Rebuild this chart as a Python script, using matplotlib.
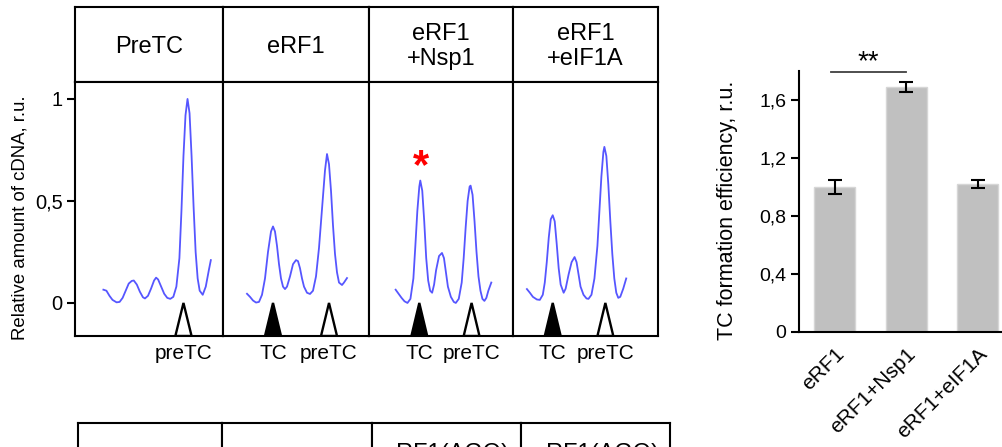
import numpy as np
import matplotlib
matplotlib.use("Agg")
import matplotlib.pyplot as plt
from matplotlib.patches import Polygon
import matplotlib.transforms as mtransforms

plt.rcParams['font.family'] = ['Liberation Sans', 'DejaVu Sans']

W, H = 1003, 447

# toeprinting profiles: position along the gel lane (a.u.) and relative cDNA amount
panel_titles = ["PreTC", "eRF1", "eRF1\n+Nsp1", "eRF1\n+eIF1A"]

pretc_pos = [28, 31, 34, 37, 41, 44, 47, 50, 53, 56, 58, 61, 64, 67, 69, 72, 75, 78, 80, 82,
             85, 88, 91, 94, 97, 100, 103, 105, 107, 109, 111, 113, 115, 117, 119, 121, 123,
             126, 129, 132, 134]
pretc_val = [0.065, 0.06, 0.035, 0.015, 0.003, 0.005, 0.025, 0.06, 0.095, 0.108, 0.11, 0.09,
             0.055, 0.028, 0.022, 0.035, 0.07, 0.11, 0.124, 0.115, 0.08, 0.045, 0.025, 0.02,
             0.03, 0.08, 0.22, 0.45, 0.72, 0.92, 1.0, 0.93, 0.72, 0.47, 0.25, 0.12, 0.06, 0.04,
             0.08, 0.16, 0.21]

erf1_pos = [24, 27, 30, 33, 36, 39, 42, 45, 48, 50, 52, 54, 56, 58, 60, 62, 64, 67, 70, 73,
            75, 77, 79, 81, 84, 87, 90, 93, 96, 99, 102, 104, 106, 108, 110, 112, 114, 116,
            119, 121, 124]
erf1_val = [0.045, 0.03, 0.012, 0.002, 0.005, 0.04, 0.12, 0.25, 0.35, 0.375, 0.35, 0.28, 0.19,
            0.12, 0.08, 0.068, 0.08, 0.13, 0.19, 0.21, 0.205, 0.17, 0.12, 0.08, 0.05, 0.044,
            0.06, 0.13, 0.27, 0.46, 0.65, 0.73, 0.68, 0.55, 0.38, 0.24, 0.15, 0.1, 0.088, 0.1,
            0.122]

nsp1_pos = [27, 30, 33, 36, 39, 42, 45, 47, 49, 51, 52, 54, 56, 58, 60, 62, 64, 66, 68, 71,
            74, 76, 78, 80, 83, 86, 88, 91, 94, 96, 98, 100, 102, 103, 105, 107, 109, 111, 113,
            115, 117, 119, 121, 124]
nsp1_val = [0.065, 0.045, 0.025, 0.008, 0.0, 0.02, 0.12, 0.28, 0.45, 0.57, 0.6, 0.55, 0.4,
            0.22, 0.11, 0.06, 0.05, 0.09, 0.16, 0.23, 0.245, 0.22, 0.15, 0.08, 0.03, 0.005, 0.0,
            0.02, 0.1, 0.22, 0.37, 0.5, 0.57, 0.575, 0.53, 0.4, 0.25, 0.13, 0.06, 0.02, 0.01,
            0.025, 0.06, 0.1]

eif1a_pos = [14, 17, 20, 24, 27, 30, 32, 34, 36, 38, 40, 42, 44, 46, 48, 51, 53, 56, 59, 62,
             64, 66, 68, 71, 74, 76, 79, 82, 85, 87, 89, 91, 92, 94, 96, 98, 100, 102, 104, 106,
             108, 111, 114]
eif1a_val = [0.068, 0.05, 0.03, 0.017, 0.015, 0.04, 0.1, 0.2, 0.32, 0.41, 0.43, 0.4, 0.29, 0.17,
             0.09, 0.05, 0.07, 0.14, 0.2, 0.225, 0.2, 0.14, 0.08, 0.04, 0.022, 0.02, 0.04, 0.12,
             0.28, 0.45, 0.62, 0.74, 0.765, 0.72, 0.58, 0.4, 0.24, 0.12, 0.05, 0.025, 0.03, 0.07,
             0.12]

traces = [(pretc_pos, pretc_val), (erf1_pos, erf1_val), (nsp1_pos, nsp1_val), (eif1a_pos, eif1a_val)]
tc_mark = [None, 50, 51, 40]
pretc_mark = [107, 106, 104, 93]
star_pos, star_val = 53, 0.665

# TC formation efficiency
bar_labels = ["eRF1", "eRF1+Nsp1", "eRF1+eIF1A"]
bar_vals = [1.0, 1.69, 1.02]
bar_err = [0.05, 0.035, 0.028]


def px_rect(x0, y0, x1, y1):
    return [x0 / W, 1 - y1 / H, (x1 - x0) / W, (y1 - y0) / H]


fig = plt.figure(figsize=(W / 100, H / 100), dpi=100)

cols = [75, 223, 369, 513, 658]
LW = 1.5

for i in range(4):
    x0, x1 = cols[i], cols[i + 1]
    # header cell
    hx = fig.add_axes(px_rect(x0, 7, x1, 82))
    hx.set_xticks([]); hx.set_yticks([])
    for s in hx.spines.values():
        s.set_linewidth(LW)
    hx.text(0.5, 0.47, panel_titles[i], ha='center', va='center', fontsize=17,
            transform=hx.transAxes)

    ax = fig.add_axes(px_rect(x0, 82, x1, 336))
    for s in ax.spines.values():
        s.set_linewidth(LW)
    ax.set_xlim(0, 146)
    ax.set_ylim(-0.162, 1.083)
    ax.set_xticks([])
    pos, val = traces[i]
    ax.plot(pos, val, color='#5656ff', lw=1.3)

    lab_tr = mtransforms.blended_transform_factory(ax.transData, ax.transAxes)
    for x, filled, name in [(tc_mark[i], True, "TC"), (pretc_mark[i], False, "preTC")]:
        if x is None:
            continue
        tri = Polygon([(x - 8, -0.162), (x + 8, -0.162), (x, 0.0)], closed=True,
                      facecolor='black' if filled else 'white', edgecolor='black', lw=1.7)
        ax.add_patch(tri)
        ax.text(x, -0.068, name, ha='center', va='center', fontsize=15, transform=lab_tr)

    if i == 0:
        ax.set_yticks([0, 0.5, 1])
        ax.set_yticklabels(["0", "0,5", "1"], fontsize=14.5)
        ax.tick_params(axis='y', length=6, width=LW, pad=3)
    else:
        ax.set_yticks([])
    if i == 2:
        ax.text(star_pos, star_val, "*", color='red', fontsize=30, fontweight='bold',
                ha='center', va='center')

fig.text(20 / W, 1 - 218 / H, "Relative amount of cDNA, r.u.", rotation=90,
         ha='center', va='center', fontsize=13.4)

# lower table, cut off by the figure edge
bcols = [78, 222, 372, 521, 670]
btext = ["", "", "eRF1(AGQ)", "eRF1(AGQ)"]
for i in range(4):
    tx = fig.add_axes(px_rect(bcols[i], 423, bcols[i + 1], 498))
    tx.set_xticks([]); tx.set_yticks([])
    for s in tx.spines.values():
        s.set_linewidth(LW)
    if btext[i]:
        fig.text((bcols[i] + bcols[i + 1]) / 2 / W, 1 - 454 / H, btext[i],
                 ha='center', va='center', fontsize=17)

# bar chart
bx = fig.add_axes(px_rect(799, 71, 1013.5, 332))
xs = np.arange(len(bar_vals))
bx.bar(xs, bar_vals, width=0.573, color='#c0c0c0', edgecolor='#d6d6d6', lw=1)
bx.errorbar(xs, bar_vals, yerr=bar_err, fmt='none', ecolor='black', elinewidth=1.5,
            capsize=5, capthick=1.5)
bx.set_xlim(-0.5, 2.5)
bx.set_ylim(0, 1.8)
bx.set_yticks([0, 0.4, 0.8, 1.2, 1.6])
bx.set_yticklabels(["0", "0,4", "0,8", "1,2", "1,6"], fontsize=14)
bx.set_xticks(xs)
bx.set_xticklabels(bar_labels, rotation=45, ha='right', va='top', rotation_mode='anchor',
                   fontsize=15)
bx.tick_params(axis='x', length=0, pad=9)
bx.tick_params(axis='y', length=6, width=LW, pad=3)
for s in ['top', 'right']:
    bx.spines[s].set_visible(False)
for s in ['left', 'bottom']:
    bx.spines[s].set_linewidth(LW)
bx.plot([-0.05, 1.0], [1.79, 1.79], color='#404040', lw=1.3, clip_on=False)
bx.text(0.47, 1.86, "**", ha='center', va='center', fontsize=20, clip_on=False)

fig.text(728 / W, 1 - 210 / H, "TC formation efficiency, r.u.", rotation=90,
         ha='center', va='center', fontsize=15.5)

fig.savefig("out.png", dpi=100)
